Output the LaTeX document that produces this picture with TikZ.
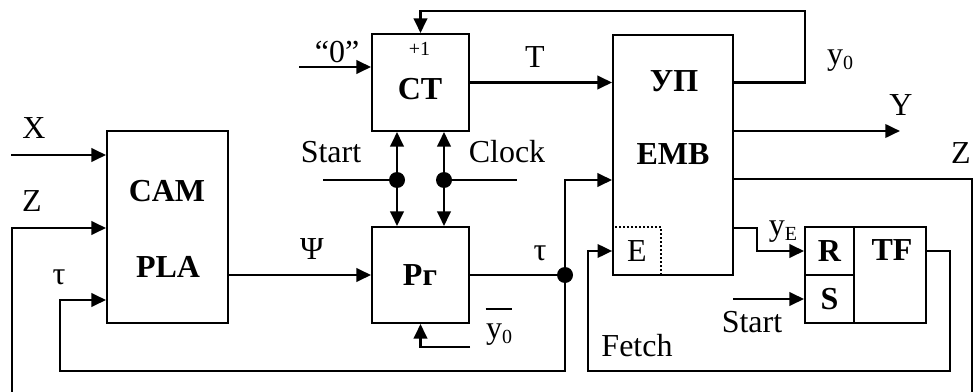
\documentclass[tikz,border=0pt]{standalone}
\usepackage{fontspec}
\setmainfont{Liberation Serif}
\usetikzlibrary{arrows.meta}
\newcommand{\sublow}[1]{\raisebox{-0.3ex}{\fontsize{15pt}{15pt}\selectfont #1}}

\begin{document}
\begin{tikzpicture}[
  x=0.75pt,
  y=-0.75pt,
  every node/.style={font=\fontsize{24pt}{28pt}\selectfont, inner sep=0pt},
  block/.style={draw, line width=1.4pt},
  title/.style={font=\fontsize{24pt}{28pt}\selectfont\bfseries},
  wire/.style={line width=2pt},
  feed/.style={wire, -{Triangle[length=11pt,width=10pt]}},
  junction/.style={circle, fill, minimum size=12pt, inner sep=0pt},
  dotbox/.style={draw, line width=1.2pt, dash pattern=on 1.5pt off 1.5pt}
]
  \useasboundingbox (0,0) rectangle (973,392);

  % ---- blocks ----------------------------------------------------------
  \node[block, minimum width=90.75pt, minimum height=144pt] (cam) at (167.5,227) {};
  \node[block, minimum width=72.75pt, minimum height=72.75pt] (ct) at (420.5,82.5) {};
  \node[block, minimum width=72.75pt, minimum height=72pt] (pr) at (420.5,275) {};
  \node[block, minimum width=90pt, minimum height=180pt] (emb) at (673,155) {};
  \node[block, minimum width=90.75pt, minimum height=72pt] (tf) at (865.5,275) {};
  \node[block, title, minimum width=36.75pt, minimum height=36pt] (rcell) at (829.5,251) {R};
  \node[block, title, minimum width=36.75pt, minimum height=36pt] (scell) at (829.5,299) {S};
  \node[dotbox, minimum width=36pt, minimum height=36pt] (ecell) at (637,251) {E};

  \node[title] (camtxt) at (167,191) {CAM};
  \node[title] (platxt) at (168,267) {PLA};
  \node[title] (cttxt) at (420,89) {CT};
  \node[font=\fontsize{15pt}{15pt}\selectfont] (ctinc) at (419.5,49) {+1};
  \node[title] (prtxt) at (420,275) {Рг};
  \node[title] (uptxt) at (674,81) {УП};
  \node[title] (embtxt) at (673,154) {EMB};
  \node[title] (tftxt) at (892,250) {TF};

  % ---- inputs of CAM ---------------------------------------------------
  \coordinate (xsrc) at (11,155);
  \draw[feed] (xsrc) -- (xsrc -| cam.west);
  \node (xlbl) at (34,128) {X};

  \coordinate (zsrc) at (12,392);
  \coordinate (zbend) at (12,228);
  \draw[feed] (zsrc) -- (zbend) -- (zbend -| cam.west);
  \node (zlbl) at (32,201) {Z};

  \node[junction] (taujn) at (565,275) {};
  \coordinate (loopl) at (60,371);
  \coordinate (taubend) at (60,300);
  \draw[feed] (taujn.center) |- (loopl) -- (taubend) -- (taubend -| cam.west);
  \node (taulbl) at (59,277) {τ};

  % ---- CAM to Pr, Pr to EMB --------------------------------------------
  \draw[feed] (cam.east |- pr.west) -- (pr.west);
  \node (psilbl) at (312,249) {Ψ};
  \draw[wire] (pr.east) -- (taujn.center);
  \node (tauout) at (540,253) {τ};
  \coordinate (embbend) at (565,180);
  \draw[feed] (taujn.center) -- (embbend) -- (embbend -| emb.west);

  \coordinate (ybarsrc) at (470,347);
  \draw[feed] (ybarsrc) -| (pr.south);
  \node (ybar) at (499,335) {y\sublow{0}};
  \draw[line width=1.2pt] ([yshift=11pt]ybar.north west) -- ([yshift=11pt]ybar.north east);

  % ---- counter ---------------------------------------------------------
  \coordinate (zerosrc) at (299,67);
  \draw[feed] (zerosrc) -- (zerosrc -| ct.west);
  \node (zerolbl) at (337,52) {“0”};
  \draw[feed] (ct.east) -- (ct.east -| emb.west);
  \node (tlbl) at (535,57) {T};
  \coordinate (ytop) at (805,11);
  \draw[feed] (ct.east -| emb.east) -| (ytop) -| (ct.north);
  \node (y0lbl) at (840,61) {y\sublow{0}};

  % ---- Start and Clock -------------------------------------------------
  \node[junction] (startjn) at (397,180) {};
  \node[junction] (clockjn) at (444,180) {};
  \coordinate (startsrc) at (323,180);
  \coordinate (clocksrc) at (517,180);
  \draw[wire] (startsrc) -- (startjn.center);
  \draw[wire] (clockjn.center) -- (clocksrc);
  \draw[feed] (startjn.center) -- (startjn |- ct.south);
  \draw[feed] (startjn.center) -- (startjn |- pr.north);
  \draw[feed] (clockjn.center) -- (clockjn |- ct.south);
  \draw[feed] (clockjn.center) -- (clockjn |- pr.north);
  \node (startlbl) at (331,152) {Start};
  \node (clocklbl) at (507,152) {Clock};

  % ---- outputs of EMB --------------------------------------------------
  \coordinate (ysink) at (900,131);
  \draw[feed] (ysink -| emb.east) -- (ysink);
  \node (ylbl) at (901,105) {Y};
  \coordinate (zout) at (972,179);
  \coordinate (zdown) at (972,392);
  \draw[wire] (zout -| emb.east) -- (zout) -- (zdown);
  \node (zrlbl) at (961,153) {Z};

  \coordinate (yebend) at (757,228);
  \draw[feed] (yebend -| emb.east) -- (yebend) |- (rcell.west);
  \node (yelbl) at (783,232) {y\sublow{E}};
  \coordinate (startsrcb) at (733,299);
  \draw[feed] (startsrcb) -- (scell.west);
  \node (startlblb) at (752,322) {Start};

  % ---- fetch loop ------------------------------------------------------
  \coordinate (fetchr) at (950,371);
  \coordinate (fetchl) at (588,371);
  \draw[feed] (rcell -| tf.east) -| (fetchr) -- (fetchl) |- (ecell.west);
  \node (fetchlbl) at (637,346) {Fetch};
\end{tikzpicture}
\end{document}
